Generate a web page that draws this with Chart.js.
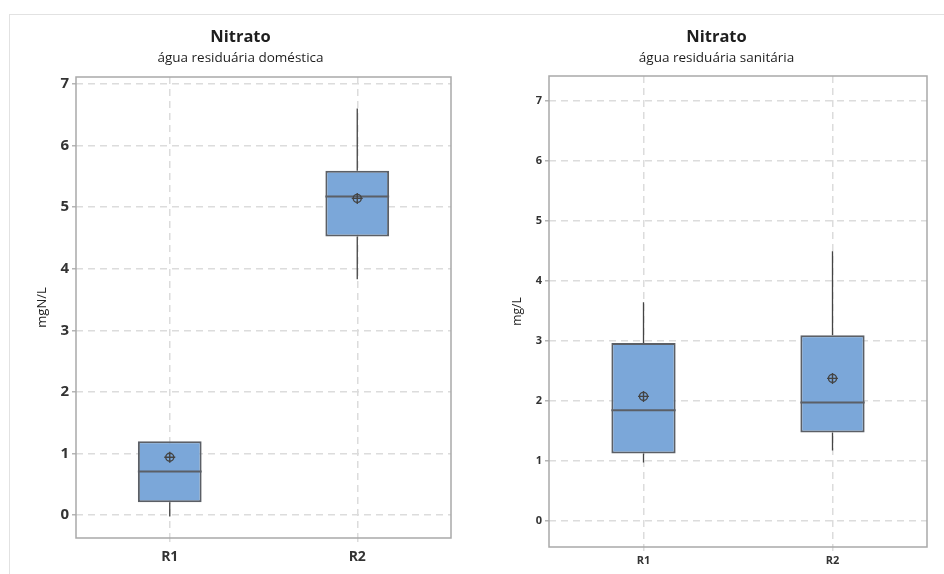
<!DOCTYPE html>
<html lang="pt">
<head>
  <meta charset="UTF-8">
  <title>Nitrato - boxplots</title>
  <script src="https://cdn.jsdelivr.net/npm/chart.js"></script>
  <style>
    body { margin: 0; background: #fff; font-family: 'Open Sans', sans-serif; }
    .page { position: relative; width: 944px; height: 574px; overflow: hidden; }
    .frame {
      position: absolute; left: 9px; top: 14px; right: 0; bottom: 0;
      border-top: 1px solid #e2e2e2; border-left: 1px solid #e2e2e2;
    }
    .panel { position: absolute; top: 14px; height: 560px; }
  </style>
</head>
<body>
  <div class="page">
    <div class="frame"></div>
    <div class="panel" style="left:9px;width:472px;"><canvas id="domChart"></canvas></div>
    <div class="panel" style="left:498px;width:446px;"><canvas id="sanChart"></canvas></div>
  </div>

  <script>
    // Dados
    const categories = ['R1', 'R2'];
    const yTicks = [0, 1, 2, 3, 4, 5, 6, 7];

    // água residuária doméstica
    const domMin = [-0.02, 3.83];
    const domQ1 = [0.21, 4.52];
    const domMedian = [0.71, 5.17];
    const domQ3 = [1.20, 5.59];
    const domMax = [1.20, 6.60];
    const domMean = [0.94, 5.14];

    // água residuária sanitária
    const sanMin = [0.98, 1.18];
    const sanQ1 = [1.13, 1.48];
    const sanMedian = [1.85, 1.98];
    const sanQ3 = [2.97, 3.10];
    const sanMax = [3.65, 4.50];
    const sanMean = [2.08, 2.38];

    const boxFill = '#7ba7d9';
    const boxLine = '#5b5f66';
    const gridColor = '#dcdcdc';

    // Moldura, bigodes e mediana desenhados a partir das escalas do Chart.js
    const boxExtras = {
      id: 'boxExtras',
      beforeDatasetsDraw(chart, args, opts) {
        const ctx = chart.ctx;
        const a = chart.chartArea;
        const y = chart.scales.y;
        ctx.save();
        ctx.strokeStyle = '#a9a9a9';
        ctx.lineWidth = 1.5;
        ctx.strokeRect(a.left, a.top, a.right - a.left, a.bottom - a.top);
        // bigodes
        const bars = chart.getDatasetMeta(0).data;
        ctx.strokeStyle = '#444';
        ctx.lineWidth = 1.3;
        bars.forEach((bar, i) => {
          ctx.beginPath();
          ctx.moveTo(bar.x, y.getPixelForValue(opts.min[i]));
          ctx.lineTo(bar.x, y.getPixelForValue(opts.q1[i]));
          ctx.moveTo(bar.x, y.getPixelForValue(opts.q3[i]));
          ctx.lineTo(bar.x, y.getPixelForValue(opts.max[i]));
          ctx.stroke();
        });
        ctx.restore();
      },
      afterDatasetDraw(chart, args, opts) {
        if (args.index !== 0) return;
        const ctx = chart.ctx;
        const y = chart.scales.y;
        ctx.save();
        ctx.strokeStyle = boxLine;
        ctx.lineWidth = 2;
        args.meta.data.forEach((bar, i) => {
          const py = y.getPixelForValue(opts.median[i]);
          ctx.beginPath();
          ctx.moveTo(bar.x - bar.width / 2, py);
          ctx.lineTo(bar.x + bar.width / 2, py);
          ctx.stroke();
        });
        ctx.restore();
      }
    };

    function makeBoxChart(id, s) {
      const boxes = categories.map((c, i) => [s.q1[i], s.q3[i]]);
      return new Chart(document.getElementById(id), {
        type: 'bar',
        data: {
          labels: categories,
          datasets: [
            {
              data: boxes,
              order: 2,
              backgroundColor: boxFill,
              borderColor: boxLine,
              borderWidth: 2,
              borderSkipped: false,
              barPercentage: 0.34,
              categoryPercentage: 1
            },
            {
              // média: círculo
              type: 'line',
              data: s.mean,
              order: 1,
              showLine: false,
              pointStyle: 'circle',
              pointRadius: 4,
              pointBorderWidth: 1.4,
              pointBorderColor: '#444',
              pointBackgroundColor: 'rgba(0,0,0,0)'
            },
            {
              // média: cruz
              type: 'line',
              data: s.mean,
              order: 0,
              showLine: false,
              pointStyle: 'cross',
              pointRadius: 5.5,
              pointBorderWidth: 1.4,
              pointBorderColor: '#444'
            }
          ]
        },
        options: {
          responsive: true,
          maintainAspectRatio: false,
          animation: false,
          events: [],
          layout: { padding: { left: s.padLeft, right: s.padRight, top: 0, bottom: 0 } },
          plugins: {
            legend: { display: false },
            tooltip: { enabled: false },
            title: {
              display: true,
              text: 'Nitrato',
              color: '#1e1e1e',
              font: { family: 'Open Sans', size: 16.5, weight: 'bold', lineHeight: 1.2 },
              padding: { top: 13, bottom: 1 }
            },
            subtitle: {
              display: true,
              text: s.subtitle,
              color: '#1e1e1e',
              font: { family: 'Open Sans', size: 13.5, lineHeight: 1.2 },
              padding: { top: 2, bottom: s.subBottom }
            },
            boxExtras: s
          },
          scales: {
            x: {
              offset: true,
              grid: {
                offset: false,
                color: gridColor,
                tickColor: gridColor,
                lineWidth: 1.5,
                tickBorderDash: [4, 3],
                tickLength: 6
              },
              border: { display: false, dash: [7, 5] },
              ticks: {
                color: '#333',
                padding: s.xPad,
                font: { family: 'Open Sans', size: s.xFont, weight: 'bold' }
              },
              afterFit: sc => { sc.height = s.xHeight; }
            },
            y: {
              min: s.yMin,
              max: s.yMax,
              afterBuildTicks: sc => { sc.ticks = yTicks.map(v => ({ value: v })); },
              grid: {
                color: gridColor,
                tickColor: '#b5b5b5',
                lineWidth: 1.5,
                tickLength: 4
              },
              border: { display: false, dash: [7, 5] },
              ticks: {
                color: '#333',
                padding: 3,
                font: { family: 'Open Sans', size: s.yFont, weight: 'bold' }
              },
              title: {
                display: true,
                text: s.yTitle,
                color: '#222',
                padding: { top: 4, bottom: 0 },
                font: { family: 'Open Sans', size: s.titleFont }
              },
              afterFit: sc => { sc.width = s.yWidth; }
            }
          }
        },
        plugins: [boxExtras]
      });
    }

    makeBoxChart('domChart', {
      subtitle: 'água residuária doméstica',
      yTitle: 'mgN/L',
      min: domMin, q1: domQ1, median: domMedian, q3: domQ3, max: domMax, mean: domMean,
      yMin: -0.37, yMax: 7.11,
      padLeft: 21, padRight: 30, yWidth: 46,
      subBottom: 11, xHeight: 36, xPad: 5,
      xFont: 14, yFont: 15, titleFont: 13
    });

    makeBoxChart('sanChart', {
      subtitle: 'água residuária sanitária',
      yTitle: 'mg/L',
      min: sanMin, q1: sanQ1, median: sanMedian, q3: sanQ3, max: sanMax, mean: sanMean,
      yMin: -0.43, yMax: 7.42,
      padLeft: 8, padRight: 17, yWidth: 43,
      subBottom: 10, xHeight: 27, xPad: 1,
      xFont: 11, yFont: 11, titleFont: 12
    });
  </script>
</body>
</html>
